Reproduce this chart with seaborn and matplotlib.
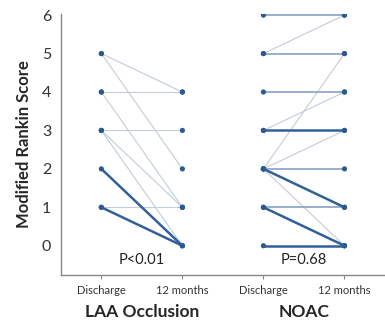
import pandas as pd
import numpy as np
import seaborn as sns
import matplotlib.pyplot as plt
import matplotlib.transforms as mtransforms

# Data: each line is one (discharge -> 12 months) pair, weight = line strength
groups = ["LAA Occlusion", "NOAC"]
times = ["Discharge", "12 months"]
p_values = ["P<0.01", "P=0.68"]

laa_start = [5, 5, 4, 4, 3, 3, 3, 2, 1, 1]
laa_end = [4, 2, 4, 1, 3, 1, 0, 0, 1, 0]
laa_weight = [1, 1, 1, 1, 1, 1, 1, 3, 1, 3]

noac_start = [6, 5, 5, 4, 3, 3, 2, 2, 2, 2, 2, 1, 1, 0]
noac_end = [6, 6, 5, 4, 4, 3, 3, 5, 2, 1, 0, 1, 0, 0]
noac_weight = [2, 1, 2, 2, 1, 3, 1, 1, 2, 3, 1, 2, 3, 3]

# Build long table
rows = []
pair = 0
for g, (starts, ends, weights) in enumerate([(laa_start, laa_end, laa_weight),
                                             (noac_start, noac_end, noac_weight)]):
    for s, e, w in zip(starts, ends, weights):
        rows.append({"pair": pair, "x": 2 * g, "score": s, "weight": w})
        rows.append({"pair": pair, "x": 2 * g + 1, "score": e, "weight": w})
        pair += 1
df = pd.DataFrame(rows)

sns.set_style("white")
plt.rcParams["font.family"] = ["Lato", "DejaVu Sans"]

fig = plt.figure(figsize=(3.85, 3.25), dpi=100)
ax = fig.add_axes([0.158, 0.154, 0.842, 0.803])

palette = {1: "#c3ccd8", 2: "#86a2c5", 3: "#31609a"}
sizes = {1: 0.8, 2: 1.2, 3: 1.8}
# draw light lines first so dark ones sit on top
for w in [1, 2, 3]:
    sub = df[df["weight"] == w]
    sns.lineplot(data=sub, x="x", y="score", units="pair", estimator=None,
                 color=palette[w], linewidth=sizes[w], ax=ax, legend=False)

sns.scatterplot(data=df, x="x", y="score", color="#2d5a8e", s=14,
                edgecolor="none", ax=ax, legend=False, zorder=5)

ax.set_xlim(-0.5, 3.5)
ax.set_ylim(-0.76, 6.03)
ax.set_yticks(range(0, 7))
ax.set_xticks(range(4))
ax.set_xticklabels(times * 2, fontsize=8, color="#333333")
ax.tick_params(axis="y", length=0, labelsize=11.5, colors="#333333", pad=7)
ax.tick_params(axis="x", length=3, color="#888888", pad=4, bottom=True)
ax.set_xlabel("")
ax.set_ylabel("Modified Rankin Score", fontsize=12, fontweight="bold", labelpad=7)

for side in ["top", "right"]:
    ax.spines[side].set_visible(False)
for side in ["left", "bottom"]:
    ax.spines[side].set_color("#888888")
    ax.spines[side].set_linewidth(1.0)

# P values and group labels
for g in range(2):
    ax.text(2 * g + 0.5, -0.36, p_values[g], ha="center", va="center",
            fontsize=10.5, color="#222222")
    trans = mtransforms.blended_transform_factory(ax.transData, fig.transFigure)
    ax.text(2 * g + 0.5, 0.04, groups[g], ha="center", va="center",
            fontsize=12.5, fontweight="bold", transform=trans)

plt.savefig("out.png", dpi=100)
